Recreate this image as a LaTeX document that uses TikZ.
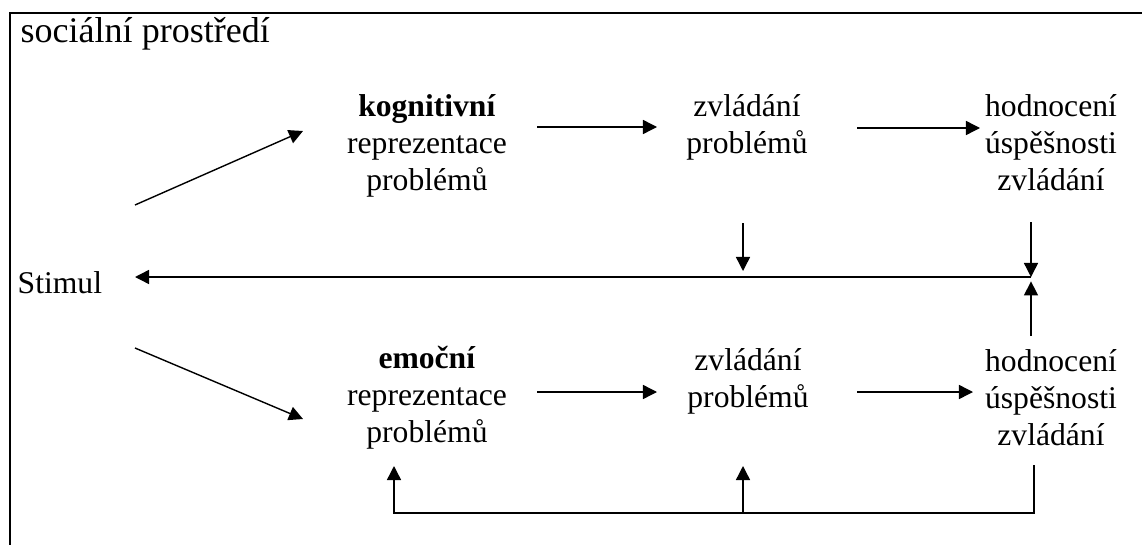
\documentclass[tikz,border=0pt]{standalone}
\usepackage{fontspec}
\setmainfont{Liberation Serif}
\usetikzlibrary{arrows.meta}

\begin{document}
\begin{tikzpicture}[x=0.02cm,y=-0.02cm,line width=0.8pt,>={Triangle[length=8pt,width=8pt]},
    txt/.style={align=center,inner sep=0pt,font=\fontsize{18}{21}\selectfont}]
    \useasboundingbox (0,0) rectangle (1142,544);
    \draw[line width=1.1pt] (10,13) rectangle (1146,548);
    \node[txt,anchor=base west,font=\fontsize{20.5}{24}\selectfont] (env) at (20,43) {sociální prostředí};
    \node[txt,anchor=west] (stim) at (17,283) {Stimul};
    % upper row
    \node[txt] (kog) at (427,146) {\textbf{kognitivní}\\reprezentace\\problémů};
    \node[txt] (zv1) at (747,127) {zvládání\\problémů};
    \node[txt] (hod1) at (1051,143) {hodnocení\\úspěšnosti\\zvládání};
    % lower row
    \node[txt] (emo) at (427,398) {\textbf{emoční}\\reprezentace\\problémů};
    \node[txt] (zv2) at (748,381) {zvládání\\problémů};
    \node[txt] (hod2) at (1051,398) {hodnocení\\úspěšnosti\\zvládání};
    % arrow ends
    \coordinate (s1) at (135,205); \coordinate (k1) at (303,131);
    \coordinate (s2) at (135,348); \coordinate (e1) at (303,419);
    \coordinate (a1) at (537,127); \coordinate (a2) at (657,127);
    \coordinate (a3) at (857,128); \coordinate (a4) at (980,128);
    \coordinate (b1) at (537,392); \coordinate (b2) at (657,392);
    \coordinate (b3) at (857,392); \coordinate (b4) at (973,392);
    \coordinate (d1) at (743,223); \coordinate (d2) at (743,271);
    \coordinate (h1) at (1031,222); \coordinate (m) at (1031,277);
    \coordinate (h2) at (1031,336); \coordinate (st) at (135,277);
    \coordinate (r) at (1034,465); \coordinate (l) at (394,466);
    \coordinate (c) at (743,466);
    \draw[->] (s1) -- (k1);
    \draw[->] (s2) -- (e1);
    \draw[->] (a1) -- (a2);
    \draw[->] (a3) -- (a4);
    \draw[->] (b1) -- (b2);
    \draw[->] (b3) -- (b4);
    \draw[->] (d1) -- (d2);
    \draw[->] (h1) -- (m);
    \draw[->] (m) -- (st);
    \draw[->] (h2) -- ([yshift=-2.5]m);
    % feedback along the bottom
    \draw[->] (r) |- (l |- 0,513) -- (l);
    \draw[->] (c |- 0,513) -- (c);
\end{tikzpicture}
\end{document}
